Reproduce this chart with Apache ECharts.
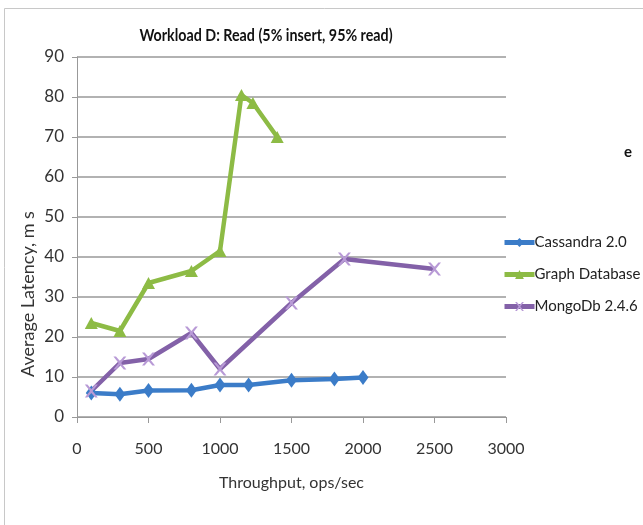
<!DOCTYPE html>
<html>
<head>
<meta charset="utf-8">
<script src="https://cdn.jsdelivr.net/npm/echarts@6/dist/echarts.min.js"></script>
<style>
html,body{margin:0;padding:0;background:#fff;}
#c{width:643px;height:525px;}
</style>
</head>
<body>
<div id="c"></div>
<script>
var title = 'Workload D: Read (5% insert, 95% read)';
var xAxisName = 'Throughput, ops/sec';
var yAxisName = 'Average Latency, m s';
var seriesNames = ['Cassandra 2.0', 'Graph Database', 'MongoDb 2.4.6'];

var cassandraX = [100, 300, 500, 800, 1000, 1200, 1500, 1800, 2000];
var cassandraY = [6, 5.7, 6.6, 6.7, 8, 8, 9.2, 9.5, 9.9];

var graphX = [100, 300, 500, 800, 1000, 1150, 1230, 1400];
var graphY = [23.5, 21.5, 33.5, 36.5, 41.5, 80.5, 78.5, 70];

var mongoX = [100, 300, 500, 800, 1000, 1500, 1870, 2500];
var mongoY = [6.5, 13.5, 14.5, 21, 12, 28.5, 39.5, 37];

function pairs(xs, ys){ return xs.map(function(x,i){ return [x, ys[i]]; }); }

var xPath = 'path://M0,0 L2,0 L5,3.5 L8,0 L10,0 L6,5 L10,10 L8,10 L5,6.5 L2,10 L0,10 L4,5 Z';

var FONT = 'Lato, "Open Sans", sans-serif';

var chart = echarts.init(document.getElementById('c'));
chart.setOption({
  backgroundColor: '#fff',
  animation: false,
  legend: {
    orient: 'vertical',
    left: 497, top: 230,
    itemWidth: 30, itemHeight: 11, itemGap: 17,
    lineStyle: {width: 5},
    textStyle: {fontFamily: FONT, fontSize: 15, color: '#222', padding: [0,0,0,-5]},
    data: seriesNames
  },
  grid: {left: 77, right: 137, top: 57, bottom: 108, containLabel: false},
  xAxis: {
    type: 'value', min: 0, max: 3000, interval: 500,
    name: xAxisName, nameLocation: 'middle', nameGap: 58,
    nameTextStyle: {fontFamily: FONT, fontSize: 16, color: '#333'},
    axisLine: {show: true, lineStyle: {color: '#999', width: 1}},
    axisTick: {show: true, length: 6, lineStyle: {color: '#999'}},
    axisLabel: {fontFamily: FONT, fontSize: 16, color: '#333', margin: 24,
      formatter: function(v){ return String(v); }},
    splitLine: {show: false}
  },
  yAxis: {
    type: 'value', min: 0, max: 90, interval: 10,
    axisLine: {show: true, lineStyle: {color: '#999', width: 1}},
    axisTick: {show: true, length: 5, lineStyle: {color: '#999'}},
    axisLabel: {fontFamily: FONT, fontSize: 17, color: '#333', margin: 13},
    splitLine: {show: true, lineStyle: {color: '#999', width: 1.5}}
  },
  graphic: [
    {type: 'rect', shape: {x: 4.5, y: 8.5, width: 700, height: 600}, style: {fill: 'none', stroke: '#c8c8c8', lineWidth: 1}, silent: true},
    {type: 'text', x: 266, y: 36, scaleX: 0.84, style: {text: title, font: 'bold 17px ' + FONT, fill: '#111', textAlign: 'center', textVerticalAlign: 'middle'}},
    {type: 'text', x: 28, y: 294, rotation: Math.PI/2, style: {text: yAxisName, font: '18px ' + FONT, fill: '#333', textAlign: 'center', textVerticalAlign: 'middle'}},
    {type: 'text', x: 628, y: 152, style: {text: 'e', font: 'bold 15px ' + FONT, fill: '#111', textAlign: 'center', textVerticalAlign: 'middle'}}
  ],
  series: [
    {name: seriesNames[0], type: 'line', data: pairs(cassandraX, cassandraY),
     symbol: 'diamond', symbolSize: [11, 15], color: '#3b7cc8',
     lineStyle: {width: 4.5, color: '#3b7cc8'}, itemStyle: {color: '#3b7cc8'}},
    {name: seriesNames[1], type: 'line', data: pairs(graphX, graphY),
     symbol: 'triangle', symbolSize: [13, 12], color: '#8dbb45',
     lineStyle: {width: 4.5, color: '#8dbb45'}, itemStyle: {color: '#8dbb45'}},
    {name: seriesNames[2], type: 'line', data: pairs(mongoX, mongoY),
     symbol: xPath, symbolSize: 13, color: '#8361a8',
     lineStyle: {width: 4.5, color: '#8361a8'}, itemStyle: {color: '#b89ad6'}}
  ]
});
</script>
</body>
</html>
